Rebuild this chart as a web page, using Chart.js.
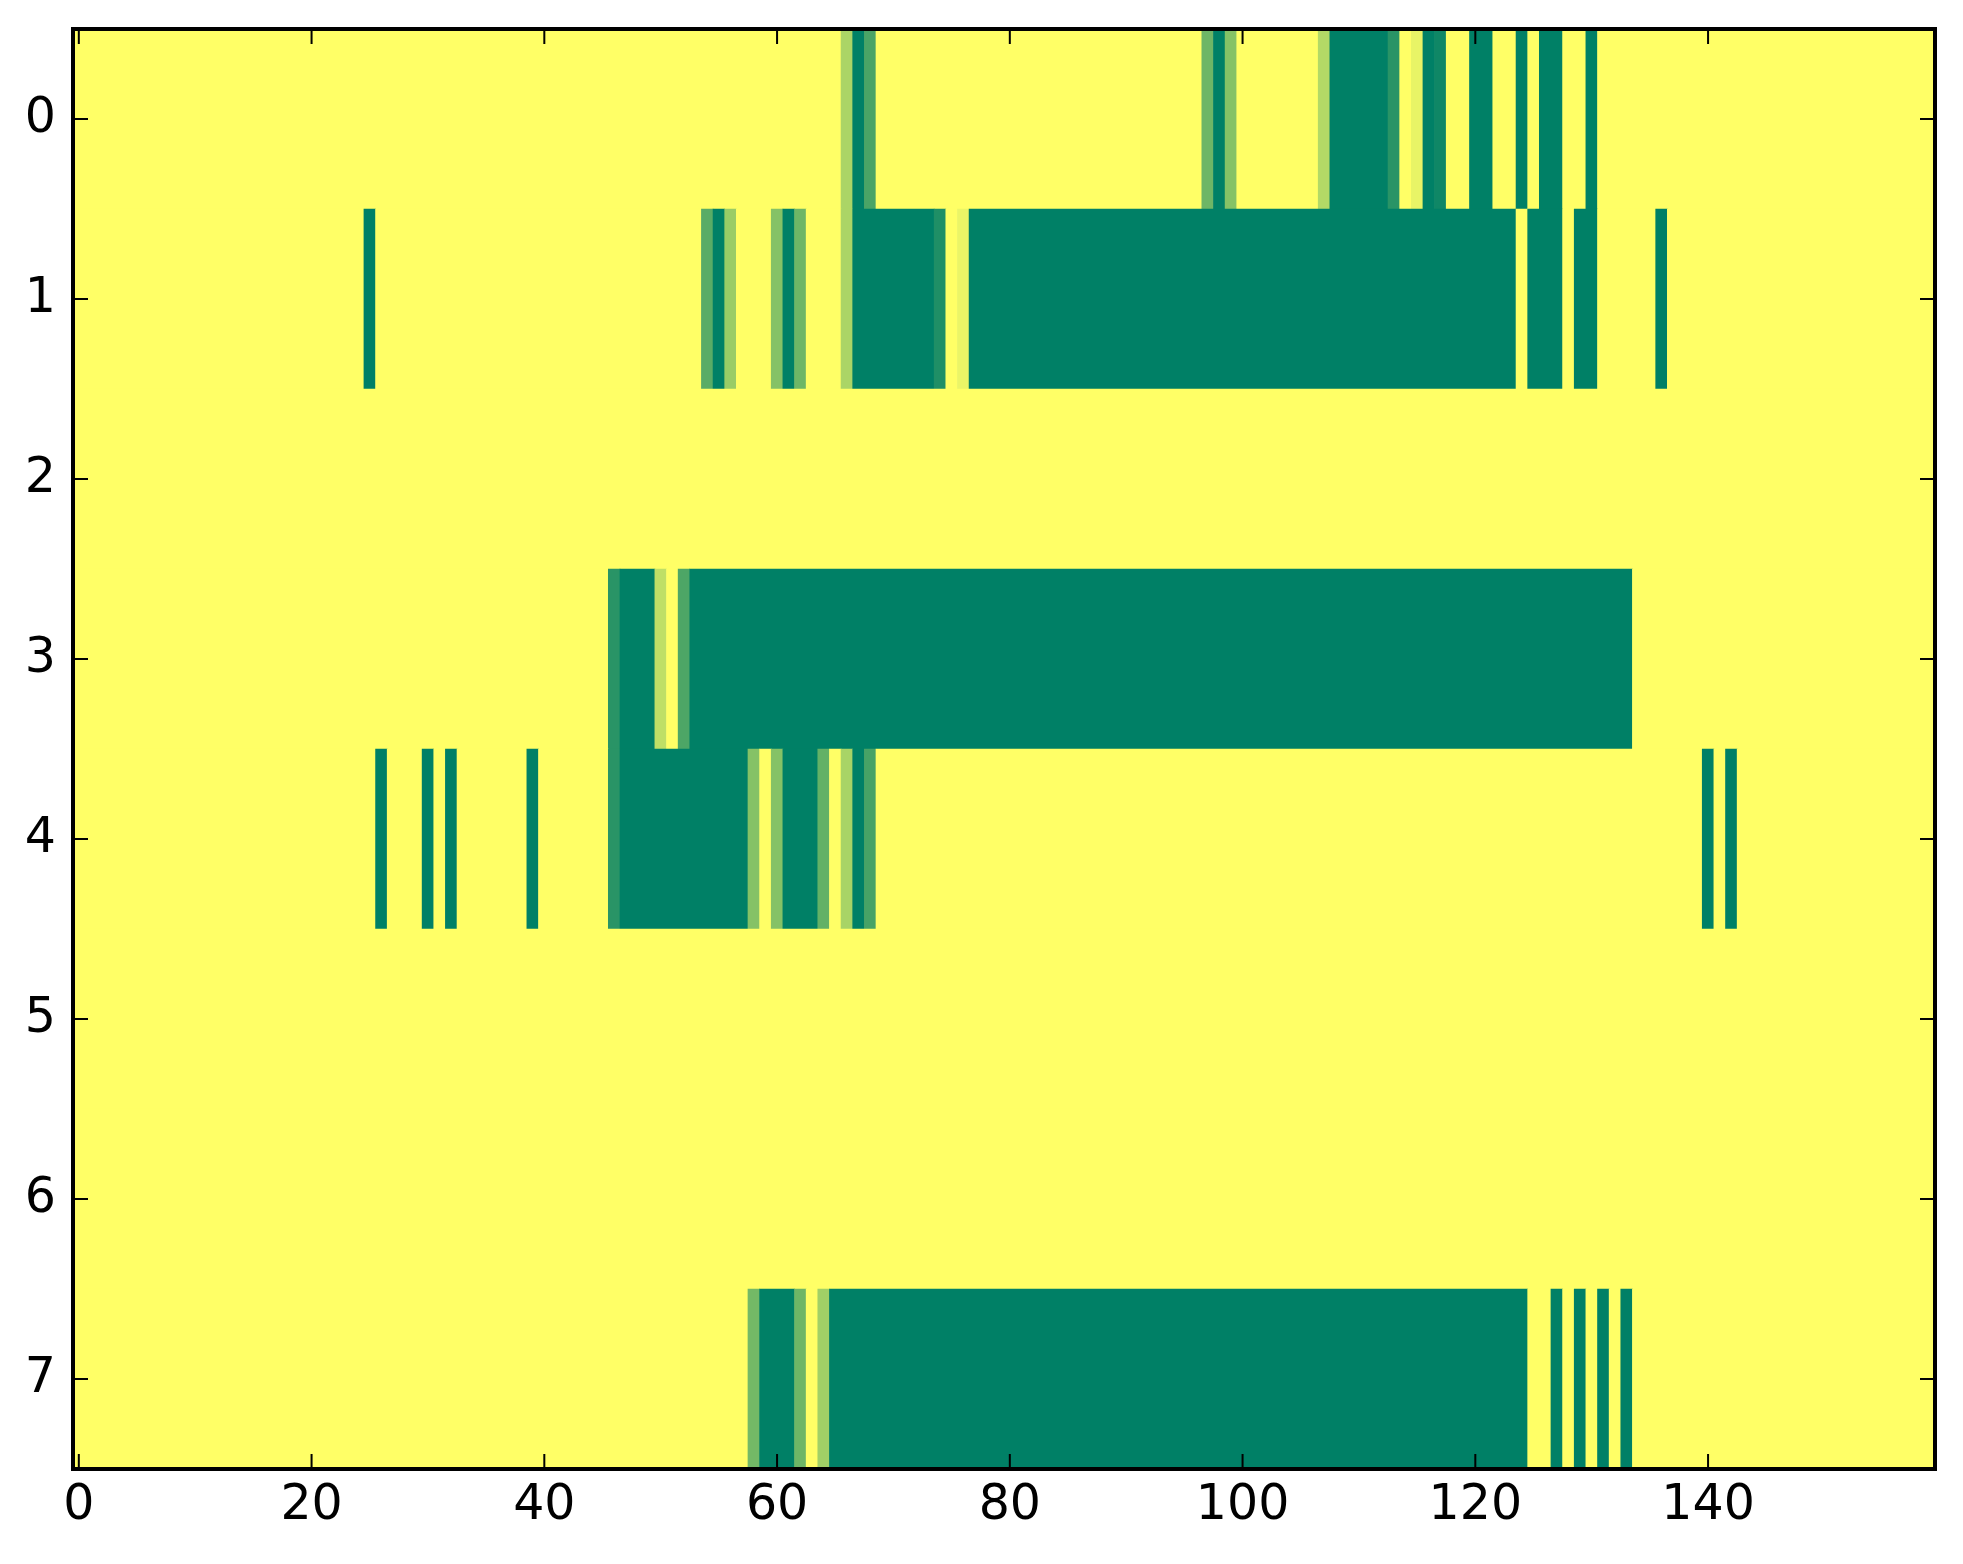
<!DOCTYPE html>
<html>
<head>
<meta charset="utf-8">
<script src="https://cdn.jsdelivr.net/npm/chart.js@4.4.1/dist/chart.umd.min.js"></script>
<style>
html, body { margin: 0; padding: 0; background: #fff; }
</style>
</head>
<body>
<canvas id="myChart" width="1963" height="1564"></canvas>
<script>
// image is 8 rows x 160 columns, values 0..1 (summer colormap)
const nCols = 160;
const rowLabels = [0, 1, 2, 3, 4, 5, 6, 7];
const xTickValues = [0, 20, 40, 60, 80, 100, 120, 140];

// runs of non-yellow cells per row: [firstCol, lastCol, value]; all other cells are 1
const row0 = [[66, 66, 0.67], [67, 67, 0], [68, 68, 0.29], [97, 97, 0.43], [98, 98, 0], [99, 99, 0.52],
    [107, 107, 0.70], [108, 112, 0], [113, 113, 0.16], [115, 115, 0.91], [116, 116, 0], [117, 117, 0.06],
    [120, 121, 0], [124, 124, 0], [126, 127, 0], [130, 130, 0]];
const row1 = [[25, 25, 0], [54, 54, 0.35], [55, 55, 0], [56, 56, 0.60], [60, 60, 0.52], [61, 61, 0],
    [62, 62, 0.43], [66, 66, 0.67], [67, 73, 0], [74, 74, 0.12], [76, 76, 0.92], [77, 123, 0],
    [125, 127, 0], [129, 130, 0], [136, 136, 0]];
const row2 = [];
const row3 = [[46, 46, 0.16], [47, 49, 0], [50, 50, 0.75], [52, 52, 0.30], [53, 133, 0]];
const row4 = [[26, 26, 0], [30, 30, 0], [32, 32, 0], [39, 39, 0], [46, 46, 0.16], [47, 57, 0],
    [58, 58, 0.52], [60, 60, 0.52], [61, 63, 0], [64, 64, 0.39], [66, 66, 0.66], [67, 67, 0],
    [68, 68, 0.28], [140, 140, 0], [142, 142, 0]];
const row5 = [];
const row6 = [];
const row7 = [[58, 58, 0.45], [59, 61, 0], [62, 62, 0.43], [64, 64, 0.63], [65, 124, 0],
    [127, 127, 0], [129, 129, 0], [131, 131, 0], [133, 133, 0]];

const rows = [row0, row1, row2, row3, row4, row5, row6, row7];

function summer(v) {
    return 'rgb(' + Math.round(255 * v) + ',' + Math.round(255 * (0.5 + 0.5 * v)) + ',102)';
}

// expand each row to its cells, then join neighbours of equal value into one floating bar
const cells = [];
rows.forEach((runs, r) => {
    const vals = new Array(nCols).fill(1);
    runs.forEach(([a, b, v]) => {
        for (let c = a; c <= b; c++) vals[c] = v;
    });
    let start = 0;
    for (let c = 1; c <= nCols; c++) {
        if (c === nCols || vals[c] !== vals[start]) {
            cells.push({ y: r, x: [start - 0.5, c - 0.5], v: vals[start] });
            start = c;
        }
    }
});

const tickFont = { family: 'DejaVu Sans', size: 49 };

const framePlugin = {
    id: 'frame',
    afterDatasetsDraw(chart) {
        const { ctx, chartArea: a, scales } = chart;
        ctx.save();
        ctx.strokeStyle = '#000';
        ctx.lineWidth = 2;
        ctx.beginPath();
        xTickValues.forEach(v => {
            const px = scales.x.getPixelForValue(v);
            ctx.moveTo(px, a.bottom); ctx.lineTo(px, a.bottom - 15);
            ctx.moveTo(px, a.top); ctx.lineTo(px, a.top + 15);
        });
        rowLabels.forEach(v => {
            const py = scales.y.getPixelForValue(v);
            ctx.moveTo(a.left, py); ctx.lineTo(a.left + 15, py);
            ctx.moveTo(a.right, py); ctx.lineTo(a.right - 15, py);
        });
        ctx.stroke();
        ctx.lineWidth = 4;
        ctx.strokeRect(a.left, a.top, a.right - a.left, a.bottom - a.top);
        ctx.restore();
    }
};

// fixed axis sizes, no extra room for label overflow
function fixSize(s, w, h) {
    if (w) s.width = w;
    if (h) s.height = h;
    s.paddingTop = 0;
    s.paddingBottom = 0;
    s.paddingLeft = 0;
    s.paddingRight = 0;
}

const config = {
    type: 'bar',
    data: {
        datasets: [{
            data: cells,
            backgroundColor: ctx => summer(ctx.raw ? ctx.raw.v : 1),
            borderWidth: 0,
            barPercentage: 1,
            categoryPercentage: 1,
            grouped: false
        }]
    },
    options: {
        indexAxis: 'y',
        responsive: false,
        devicePixelRatio: 1,
        animation: false,
        layout: { padding: { left: 0, top: 29, right: 28, bottom: 0 } },
        plugins: {
            legend: { display: false },
            tooltip: { enabled: false }
        },
        scales: {
            x: {
                type: 'linear',
                position: 'bottom',
                offset: false,
                min: -0.5,
                max: nCols - 0.5,
                grid: { display: false, drawTicks: false },
                border: { display: false },
                afterBuildTicks: s => { s.ticks = xTickValues.map(v => ({ value: v })); },
                afterFit: s => fixSize(s, 0, 95),
                ticks: { font: tickFont, color: '#000', padding: 8, maxRotation: 0, autoSkip: false }
            },
            y: {
                type: 'linear',
                position: 'left',
                offset: false,
                reverse: true,
                min: -0.5,
                max: rows.length - 0.5,
                grid: { display: false, drawTicks: false, offset: false },
                border: { display: false },
                afterBuildTicks: s => { s.ticks = rowLabels.map(v => ({ value: v })); },
                afterFit: s => fixSize(s, 73, 0),
                ticks: { font: tickFont, color: '#000', padding: 17, autoSkip: false }
            }
        }
    },
    plugins: [framePlugin]
};

const myChart = new Chart(document.getElementById('myChart'), config);
</script>
</body>
</html>
